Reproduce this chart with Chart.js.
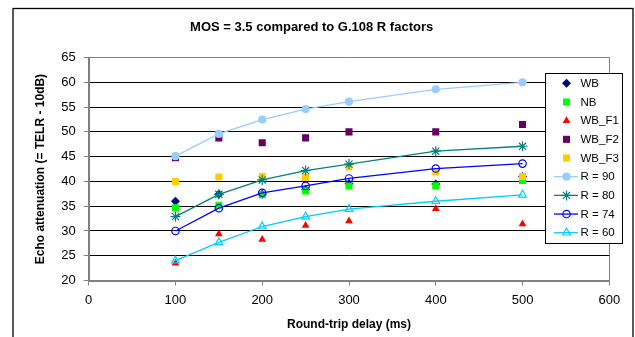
<!DOCTYPE html>
<html>
<head>
<meta charset="utf-8">
<script src="https://cdn.jsdelivr.net/npm/chart.js@4/dist/chart.umd.min.js"></script>
<style>
  body { margin: 0; background: #fff; }
  #grafico { display: block; }
</style>
</head>
<body>
<canvas id="grafico" width="635" height="337"></canvas>
<script>
// valores
const atrasos = [100, 150, 200, 250, 300, 400, 500]
const wb   = [36.0, 37.4, 37.4, 38.3, 39.6, 39.5, 41.0]
const nb   = [34.7, 35.2, 37.3, 38.1, 39.1, 39.1, 40.2]
const wbF1 = [23.5, 29.4, 28.3, 31.1, 32.0, 34.5, 31.4]
const wbF2 = [44.8, 48.8, 47.8, 48.8, 50.0, 50.0, 51.5]
const wbF3 = [40.0, 40.9, 41.0, 40.8, 42.9, 41.9, 41.0]
const r90  = [45.1, 49.6, 52.5, 54.6, 56.1, 58.6, 60.0]
const r80  = [32.9, 37.4, 40.3, 42.2, 43.5, 46.1, 47.1]
const r74  = [30.0, 34.6, 37.7, 39.1, 40.6, 42.6, 43.6]
const r60  = [24.0, 27.7, 30.9, 32.9, 34.4, 36.0, 37.3]

const titulo = 'MOS = 3.5 compared to G.108 R factors'
const tituloX = 'Round-trip delay (ms)'
const tituloY = 'Echo attenuation (= TELR - 10dB)'

const pontos = (valores) => valores.map((v, i) => ({ x: atrasos[i], y: v }))

// serie so com marcador
let criaMarcador = (rotulo, valores, cor, estilo, raio) => {
  return {
    label: rotulo,
    data: pontos(valores),
    showLine: false,
    pointStyle: estilo,
    pointRadius: raio,
    pointHoverRadius: raio,
    backgroundColor: cor,
    borderColor: cor,
    pointBorderWidth: 0
  }
}

// serie com linha
let criaLinha = (rotulo, valores, cor, estilo, raio, fundo) => {
  return {
    label: rotulo,
    data: pontos(valores),
    showLine: true,
    tension: 0,
    borderWidth: 1.3,
    borderColor: cor,
    backgroundColor: fundo,
    pointStyle: estilo,
    pointRadius: raio,
    pointHoverRadius: raio,
    pointBackgroundColor: fundo,
    pointBorderColor: cor,
    pointBorderWidth: 1.2
  }
}

const series = [
  criaMarcador('WB', wb, '#000080', 'rectRot', 4.5),
  criaMarcador('NB', nb, '#00ff00', 'rect', 5),
  criaMarcador('WB_F1', wbF1, '#ff0000', 'triangle', 4.5),
  criaMarcador('WB_F2', wbF2, '#660066', 'rect', 5),
  criaMarcador('WB_F3', wbF3, '#ffcc00', 'rect', 5),
  criaLinha('R = 90', r90, '#99ccff', 'circle', 3.5, '#99ccff'),
  criaLinha('R = 80', r80, '#008080', 'star', 5, 'rgba(0,0,0,0)'),
  criaLinha('R = 74', r74, '#0000ff', 'circle', 3.7, 'rgba(0,0,0,0)'),
  criaLinha('R = 60', r60, '#00ccff', 'triangle', 4.5, 'rgba(0,0,0,0)')
]
// series posteriores por cima, como no excel
series.forEach((s, i) => { s.order = series.length - i })

const moldura = {
  id: 'moldura',
  beforeDraw(chart) {
    const ctx = chart.ctx
    ctx.save()
    ctx.fillStyle = '#fff'
    ctx.fillRect(0, 0, chart.width, chart.height)
    ctx.strokeStyle = '#000'
    ctx.lineWidth = 1.3
    ctx.strokeRect(13, 8.5, 620, 340)
    ctx.restore()
  }
}

// legenda desenhada a mao porque fica por cima da area do grafico
const legenda = {
  id: 'legenda',
  afterDraw(chart) {
    const ctx = chart.ctx
    const x0 = 545.5, y0 = 73.5, larg = 77, alt = 170
    ctx.save()
    ctx.fillStyle = '#fff'
    ctx.fillRect(x0, y0, larg, alt)
    ctx.strokeStyle = '#000'
    ctx.lineWidth = 1
    ctx.strokeRect(x0, y0, larg, alt)
    ctx.font = '11.5px "Liberation Sans", Arial, sans-serif'
    ctx.textBaseline = 'middle'
    chart.data.datasets.forEach((ds, i) => {
      const y = 83.3 + i * 18.68
      const xm = 566.5
      if (ds.showLine) {
        ctx.strokeStyle = ds.borderColor
        ctx.lineWidth = ds.borderWidth
        ctx.beginPath()
        ctx.moveTo(554, y)
        ctx.lineTo(578, y)
        ctx.stroke()
      }
      ctx.fillStyle = ds.pointBackgroundColor || ds.backgroundColor
      ctx.strokeStyle = ds.pointBorderColor || ds.borderColor
      ctx.lineWidth = ds.showLine ? ds.pointBorderWidth : 0.01
      Chart.helpers.drawPoint(ctx, { pointStyle: ds.pointStyle, radius: ds.pointRadius, rotation: 0, borderWidth: ctx.lineWidth }, xm, y)
      ctx.fillStyle = '#000'
      ctx.fillText(ds.label, 580.5, y + 0.5)
    })
    ctx.restore()
  }
}

const corEixo = '#808080'

new Chart(document.getElementById('grafico'), {
  type: 'scatter',
  data: { datasets: series },
  plugins: [moldura, legenda],
  options: {
    responsive: false,
    animation: false,
    layout: { padding: { left: 14, right: 25.7, top: 0, bottom: 0 } },
    plugins: {
      legend: { display: false },
      tooltip: { enabled: false },
      title: {
        display: true,
        text: titulo,
        color: '#000',
        font: { family: '"Liberation Sans", Arial, sans-serif', size: 13, weight: 'bold' },
        padding: { top: 20, bottom: 22 }
      }
    },
    scales: {
      x: {
        type: 'linear',
        min: 0,
        max: 600,
        afterFit: (escala) => { escala.height = 56.5 },
        ticks: {
          stepSize: 100,
          color: '#000',
          padding: 7,
          font: { family: '"Liberation Sans", Arial, sans-serif', size: 13 }
        },
        grid: {
          color: (c) => c.tick && c.tick.value === 600 ? corEixo : 'rgba(0,0,0,0)',
          tickColor: corEixo,
          tickLength: 5,
          lineWidth: 1
        },
        border: { color: corEixo, width: 2 },
        title: {
          display: true,
          text: tituloX,
          color: '#000',
          font: { family: '"Liberation Sans", Arial, sans-serif', size: 12, weight: 'bold' },
          padding: { top: 0, bottom: 5 }
        }
      },
      y: {
        min: 20,
        max: 65,
        afterFit: (escala) => { escala.width = 74.7 },
        ticks: {
          stepSize: 5,
          color: '#000',
          padding: 8,
          font: { family: '"Liberation Sans", Arial, sans-serif', size: 13 }
        },
        grid: {
          color: (c) => c.tick && c.tick.value === 65 ? corEixo : '#000',
          tickColor: corEixo,
          tickLength: 5,
          lineWidth: 1
        },
        border: { color: corEixo, width: 2 },
        title: {
          display: true,
          text: tituloY,
          color: '#000',
          font: { family: '"Liberation Sans", Arial, sans-serif', size: 12, weight: 'bold' },
          padding: { top: 19, bottom: 0 }
        }
      }
    }
  }
})
</script>
</body>
</html>
